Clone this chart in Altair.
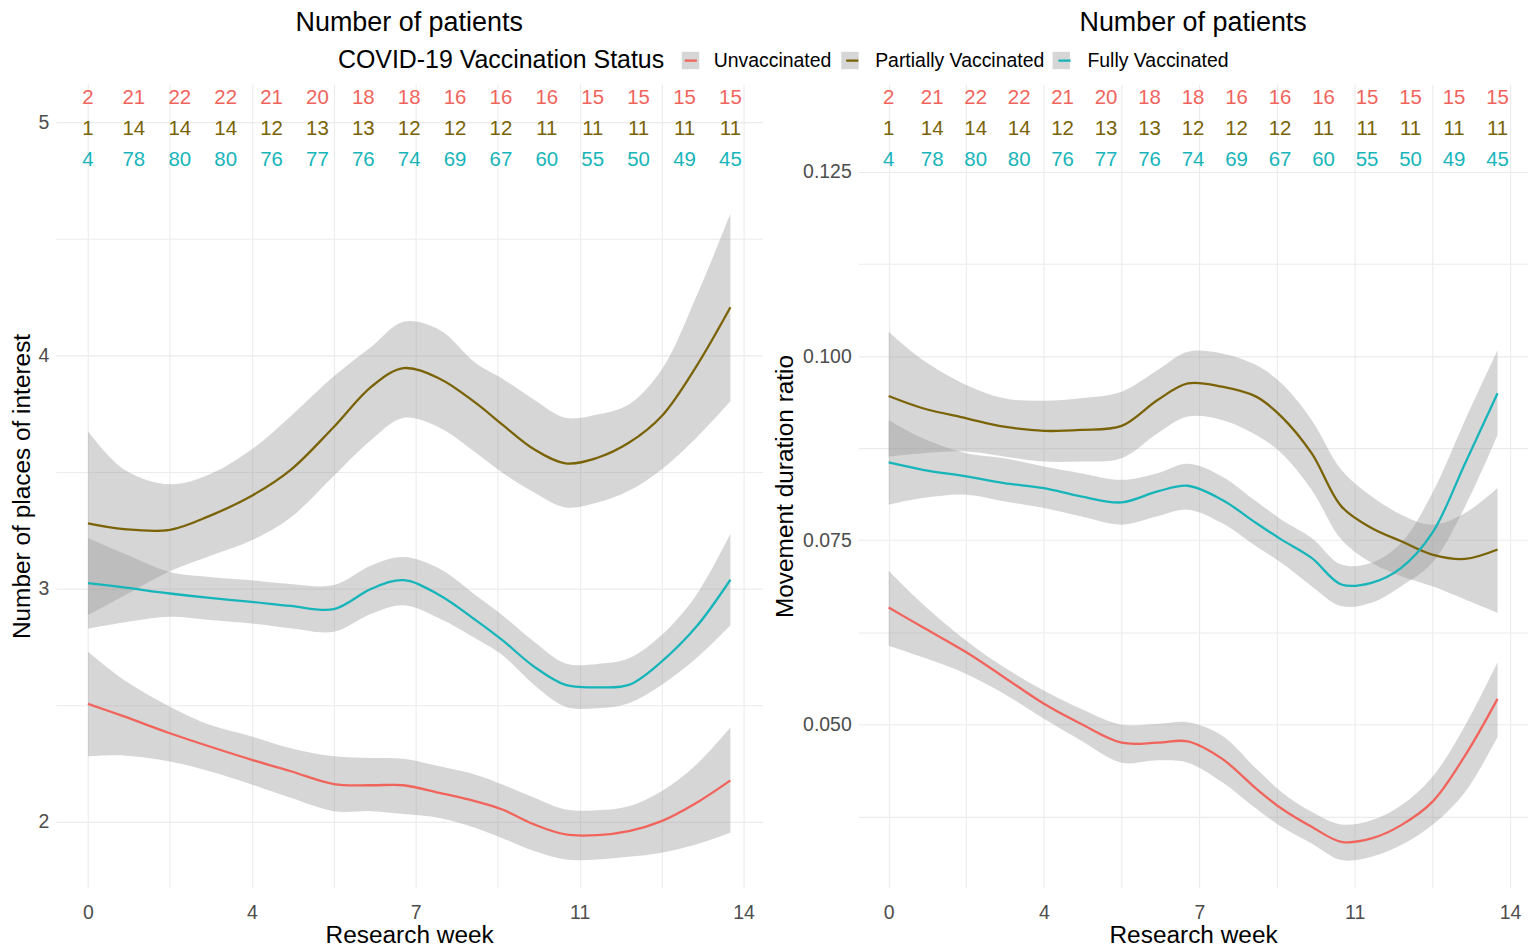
import altair as alt
import pandas as pd

FONT = "Liberation Sans"
STATUS = ["Unvaccinated", "Partially Vaccinated", "Fully Vaccinated"]
COLORS = ["#F0645C", "#7A6306", "#17B5BA"]
BAND_GREY = "#999999"

# x positions (research-week axis units) of the smoothed curves
WEEK = [0, 0.77, 1.75, 2.6, 3.5, 4.33, 5.25, 6.06, 6.74, 7.51, 8.28, 8.85,
        9.53, 10.2, 10.88, 11.55, 12.25, 12.99, 13.72]

X_TICKS = [0, 3.5, 7, 10.5, 14]
X_TICK_LABELS = ["0", "4", "7", "11", "14"]
X_GRID = [0, 1.75, 3.5, 5.25, 7, 8.75, 10.5, 12.25, 14]
X_DOMAIN = [-0.686, 14.406]

# ---- left panel: number of places of interest ----
POI_UNV_FIT = [2.506, 2.452, 2.380, 2.323, 2.266, 2.217, 2.162, 2.157, 2.157, 2.124, 2.088, 2.053, 1.989, 1.946, 1.943, 1.960, 2.003, 2.081, 2.178]
POI_UNV_LO = [2.281, 2.285, 2.259, 2.217, 2.160, 2.103, 2.046, 2.046, 2.034, 2.017, 1.974, 1.930, 1.875, 1.839, 1.839, 1.850, 1.868, 1.903, 1.953]
POI_UNV_HI = [2.729, 2.608, 2.494, 2.416, 2.366, 2.316, 2.281, 2.274, 2.271, 2.238, 2.202, 2.160, 2.103, 2.053, 2.050, 2.067, 2.131, 2.245, 2.405]

POI_PAR_FIT = [3.280, 3.255, 3.252, 3.312, 3.398, 3.509, 3.693, 3.867, 3.945, 3.900, 3.796, 3.703, 3.597, 3.537, 3.561, 3.625, 3.739, 3.952, 4.206]
POI_PAR_LO = [2.886, 2.969, 3.074, 3.140, 3.207, 3.305, 3.483, 3.639, 3.732, 3.690, 3.583, 3.497, 3.412, 3.348, 3.369, 3.419, 3.511, 3.646, 3.803]
POI_PAR_HI = [3.675, 3.511, 3.447, 3.490, 3.597, 3.739, 3.910, 4.038, 4.144, 4.109, 3.967, 3.900, 3.810, 3.732, 3.746, 3.789, 3.938, 4.251, 4.607]

POI_FUL_FIT = [3.024, 3.005, 2.979, 2.960, 2.943, 2.926, 2.912, 3.000, 3.036, 2.972, 2.865, 2.779, 2.665, 2.587, 2.577, 2.587, 2.687, 2.836, 3.038]
POI_FUL_LO = [2.829, 2.855, 2.879, 2.865, 2.850, 2.830, 2.815, 2.893, 2.929, 2.872, 2.786, 2.715, 2.587, 2.494, 2.487, 2.509, 2.587, 2.701, 2.843]
POI_FUL_HI = [3.217, 3.150, 3.071, 3.050, 3.036, 3.020, 3.015, 3.100, 3.135, 3.085, 2.972, 2.886, 2.772, 2.679, 2.677, 2.701, 2.801, 2.972, 3.235]

# ---- right panel: movement duration ratio ----
MDR_UNV_FIT = [0.06588, 0.06318, 0.05979, 0.05641, 0.05280, 0.05009, 0.04752, 0.04752, 0.04770, 0.04535, 0.04129, 0.03858, 0.03610, 0.03407, 0.03452, 0.03633, 0.03948, 0.04580, 0.05347]
MDR_UNV_LO = [0.06069, 0.05912, 0.05686, 0.05415, 0.05077, 0.04783, 0.04481, 0.04512, 0.04481, 0.04219, 0.03858, 0.03610, 0.03384, 0.03159, 0.03204, 0.03362, 0.03633, 0.04084, 0.04829]
MDR_UNV_HI = [0.07085, 0.06633, 0.06137, 0.05776, 0.05460, 0.05212, 0.04995, 0.05009, 0.05031, 0.04851, 0.04400, 0.04084, 0.03813, 0.03642, 0.03700, 0.03903, 0.04287, 0.04986, 0.05844]

MDR_PAR_FIT = [0.09458, 0.09292, 0.09156, 0.09043, 0.08985, 0.08998, 0.09052, 0.09404, 0.09630, 0.09585, 0.09450, 0.09179, 0.08682, 0.07960, 0.07667, 0.07487, 0.07306, 0.07247, 0.07374]
MDR_PAR_LO = [0.08637, 0.08682, 0.08705, 0.08637, 0.08569, 0.08569, 0.08614, 0.08953, 0.09179, 0.09134, 0.08930, 0.08682, 0.08186, 0.07510, 0.07194, 0.07013, 0.06877, 0.06697, 0.06516]
MDR_PAR_HI = [0.10330, 0.09946, 0.09607, 0.09427, 0.09395, 0.09427, 0.09517, 0.09810, 0.10059, 0.10036, 0.09878, 0.09630, 0.09134, 0.08457, 0.08096, 0.07848, 0.07712, 0.07870, 0.08209]

MDR_FUL_FIT = [0.08556, 0.08457, 0.08366, 0.08276, 0.08208, 0.08096, 0.08014, 0.08163, 0.08240, 0.08050, 0.07734, 0.07509, 0.07260, 0.06900, 0.06922, 0.07125, 0.07599, 0.08547, 0.09495]
MDR_FUL_LO = [0.07983, 0.08073, 0.08118, 0.08028, 0.07937, 0.07825, 0.07712, 0.07825, 0.07915, 0.07734, 0.07419, 0.07194, 0.06877, 0.06606, 0.06651, 0.06877, 0.07194, 0.07960, 0.08930]
MDR_FUL_HI = [0.09134, 0.08885, 0.08682, 0.08614, 0.08502, 0.08411, 0.08321, 0.08411, 0.08538, 0.08367, 0.08028, 0.07780, 0.07532, 0.07171, 0.07194, 0.07465, 0.08140, 0.09134, 0.10081]

# ---- number of patients per research week ----
COUNT_X = [0, 0.98, 1.96, 2.94, 3.92, 4.9, 5.88, 6.86, 7.84, 8.82, 9.8, 10.78, 11.76, 12.74, 13.72]
N_UNV = [2, 21, 22, 22, 21, 20, 18, 18, 16, 16, 16, 15, 15, 15, 15]
N_PAR = [1, 14, 14, 14, 12, 13, 13, 12, 12, 12, 11, 11, 11, 11, 11]
N_FUL = [4, 78, 80, 80, 76, 77, 76, 74, 69, 67, 60, 55, 50, 49, 45]
POI_COUNT_Y = [5.103, 4.970, 4.838]
MDR_COUNT_Y = [0.1350, 0.1308, 0.1266]

POI_Y_DOMAIN = [1.718, 5.162]
POI_Y_GRID = [2, 2.5, 3, 3.5, 4, 4.5, 5]
POI_Y_LABELS = [2, 3, 4, 5]
MDR_Y_DOMAIN = [0.02784, 0.1369]
MDR_Y_GRID = [0.0375, 0.05, 0.0625, 0.075, 0.0875, 0.1, 0.1125, 0.125]
MDR_Y_LABELS = [0.05, 0.075, 0.1, 0.125]

# band keys: same names with a trailing space so the grey-key legend stays separate
BAND_KEYS = [s + " " for s in STATUS]


def smooth_df(fits, los, his):
    rows = []
    for s, b, f, l, h in zip(STATUS, BAND_KEYS, fits, los, his):
        for x, a, lo, hi in zip(WEEK, f, l, h):
            rows.append({"week": x, "status": s, "band": b, "fit": a, "lo": lo, "hi": hi})
    return pd.DataFrame(rows)


def count_df(ys):
    rows = []
    for s, ns, y in zip(STATUS, [N_UNV, N_PAR, N_FUL], ys):
        for x, n in zip(COUNT_X, ns):
            rows.append({"week": x, "status": s, "n": str(n), "y": y})
    return pd.DataFrame(rows)


x_label_expr = " : ".join(
    f"datum.value == {v} ? '{t}'" for v, t in zip(X_TICKS, X_TICK_LABELS)
) + " : ''"

legend_common = dict(
    orient="none", legendX=283, legendY=-34, direction="horizontal",
    titleOrient="left", title="COVID-19 Vaccination Status",
    titleFont=FONT, titleFontSize=25, titleFontWeight="normal", titleColor="black",
    titleBaseline="middle", titlePadding=16, titleLimit=800,
    labelFont=FONT, labelFontSize=19.5, labelColor="black", labelLimit=600,
    symbolSize=306, labelOffset=13, columnPadding=9,
)
fill_legend = alt.Legend(symbolType="square", symbolOpacity=0.4,
                         symbolStrokeWidth=0, labelOpacity=0, titleOpacity=0,
                         labelExpr="trim(datum.label)", zindex=1,
                         **legend_common)
stroke_legend = alt.Legend(symbolType="M-0.7,0L0.7,0", symbolStrokeWidth=2.3,
                           zindex=2, **legend_common)


def panel(df, cdf, ytitle, ydomain, ygrid, ylabel_expr, width, title_pad):
    xenc = alt.X("week:Q",
                 scale=alt.Scale(domain=X_DOMAIN, nice=False, zero=False),
                 axis=alt.Axis(values=X_GRID, labelExpr=x_label_expr,
                               title="Research week", labelPadding=16,
                               titlePadding=2))
    yscale = alt.Scale(domain=ydomain, nice=False, zero=False)
    yaxis = alt.Axis(values=ygrid, labelExpr=ylabel_expr, title=ytitle,
                     labelPadding=7, titlePadding=title_pad)
    band = alt.Chart(df).mark_area(opacity=0.4, interpolate="catmull-rom").encode(
        x=xenc,
        y=alt.Y("lo:Q", scale=yscale, axis=yaxis),
        y2="hi:Q",
        fill=alt.Fill("band:N",
                      scale=alt.Scale(domain=BAND_KEYS, range=[BAND_GREY] * 3),
                      legend=fill_legend),
    )
    line = alt.Chart(df).mark_line(strokeWidth=2.3, interpolate="catmull-rom").encode(
        x="week:Q",
        y="fit:Q",
        stroke=alt.Stroke("status:N", scale=alt.Scale(domain=STATUS, range=COLORS),
                          legend=stroke_legend),
    )
    counts = alt.Chart(cdf).mark_text(font=FONT, fontSize=20.5, baseline="middle",
                                      align="center").encode(
        x="week:Q",
        y="y:Q",
        text="n:N",
        color=alt.Color("status:N", scale=alt.Scale(domain=STATUS, range=COLORS),
                        legend=None),
    )
    return alt.layer(band, line, counts).properties(
        width=width, height=806,
        title=alt.TitleParams("Number of patients", font=FONT, fontSize=27,
                              fontWeight="normal", color="black", anchor="middle",
                              frame="group", offset=47),
    )


poi_label_expr = " || ".join(f"datum.value == {v}" for v in POI_Y_LABELS) + " ? format(datum.value, 'd') : ''"
mdr_label_expr = " || ".join(f"datum.value == {v}" for v in MDR_Y_LABELS) + " ? format(datum.value, '.3f') : ''"

left = panel(smooth_df([POI_UNV_FIT, POI_PAR_FIT, POI_FUL_FIT],
                       [POI_UNV_LO, POI_PAR_LO, POI_FUL_LO],
                       [POI_UNV_HI, POI_PAR_HI, POI_FUL_HI]),
             count_df(POI_COUNT_Y), "Number of places of interest",
             POI_Y_DOMAIN, POI_Y_GRID, poi_label_expr, 709, 4)

right = panel(smooth_df([MDR_UNV_FIT, MDR_PAR_FIT, MDR_FUL_FIT],
                        [MDR_UNV_LO, MDR_PAR_LO, MDR_FUL_LO],
                        [MDR_UNV_HI, MDR_PAR_HI, MDR_FUL_HI]),
              count_df(MDR_COUNT_Y), "Movement duration ratio",
              MDR_Y_DOMAIN, MDR_Y_GRID, mdr_label_expr, 672, 5)

chart = alt.hconcat(left, right, spacing=10).properties(
    padding={"left": 1, "top": 0, "right": 0, "bottom": 0},
    background="white",
).configure_view(stroke=None).configure_axis(
    labelFont=FONT, labelFontSize=19.5, labelColor="#4D4D4D",
    titleFont=FONT, titleFontSize=24.5, titleFontWeight="normal", titleColor="black",
    domain=False, ticks=False, gridColor="#EBEBEB", gridWidth=1.1,
)

chart.save("out.html", embed_options={"renderer": "svg", "actions": False})
